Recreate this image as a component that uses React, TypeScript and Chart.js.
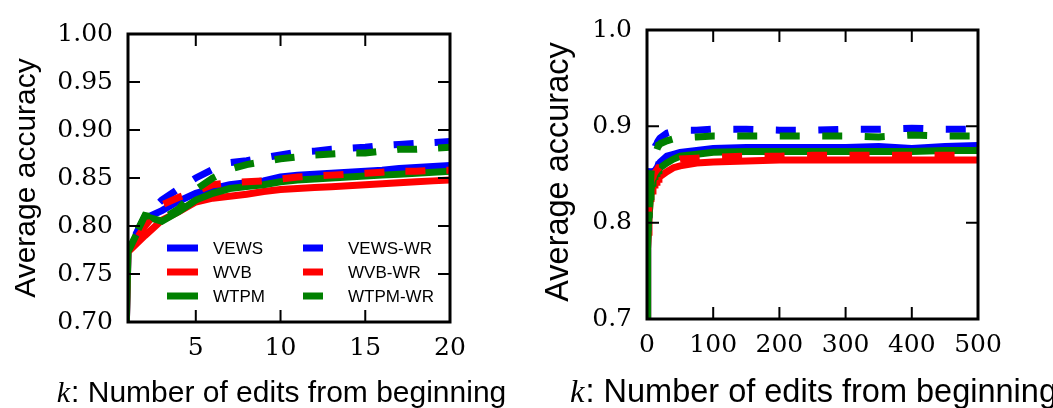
import React, { useEffect, useRef } from "react";
import { Chart, registerables } from "chart.js";

Chart.register(...registerables);

// ---------- data ----------
const K_LEFT = [0, 1, 2, 3, 4, 5, 6, 7, 8, 9, 10, 11, 12, 13, 14, 15, 16, 17, 18, 19, 20];
const VEWS = [0, 0.773, 0.808, 0.816, 0.826, 0.834, 0.839, 0.843, 0.845, 0.847, 0.851, 0.853, 0.854, 0.855, 0.856, 0.857, 0.858, 0.86, 0.861, 0.862, 0.863];
const WVB = [0, 0.773, 0.79, 0.806, 0.815, 0.825, 0.829, 0.831, 0.833, 0.836, 0.838, 0.839, 0.84, 0.841, 0.842, 0.843, 0.844, 0.845, 0.846, 0.847, 0.848];
const WTPM = [0, 0.773, 0.81, 0.805, 0.815, 0.827, 0.834, 0.839, 0.841, 0.843, 0.846, 0.848, 0.849, 0.85, 0.851, 0.852, 0.853, 0.854, 0.855, 0.856, 0.857];
const VEWS_WR = [null, 0.775, 0.81, 0.827, 0.839, 0.85, 0.859, 0.866, 0.868, 0.871, 0.874, 0.877, 0.878, 0.88, 0.881, 0.882, 0.884, 0.885, 0.886, 0.887, 0.888];
const WVB_WR = [null, 0.773, 0.8, 0.822, 0.83, 0.836, 0.843, 0.845, 0.846, 0.847, 0.849, 0.851, 0.852, 0.853, 0.854, 0.855, 0.856, 0.857, 0.857, 0.858, 0.858];
const WTPM_WR = [null, 0.775, 0.811, 0.807, 0.818, 0.838, 0.85, 0.859, 0.864, 0.867, 0.87, 0.872, 0.874, 0.875, 0.876, 0.876, 0.878, 0.88, 0.88, 0.881, 0.882];

const K_TAIL = [30, 40, 50, 75, 100, 150, 200, 250, 300, 350, 400, 450, 500];
const VEWS_TAIL = [0.869, 0.871, 0.873, 0.875, 0.877, 0.878, 0.878, 0.878, 0.878, 0.879, 0.877, 0.879, 0.88];
const WVB_TAIL = [0.853, 0.857, 0.859, 0.862, 0.863, 0.864, 0.865, 0.865, 0.865, 0.865, 0.865, 0.865, 0.865];
const WTPM_TAIL = [0.862, 0.866, 0.869, 0.871, 0.873, 0.874, 0.874, 0.874, 0.874, 0.874, 0.874, 0.875, 0.875];
const VEWS_WR_TAIL = [0.893, 0.895, 0.896, 0.896, 0.897, 0.897, 0.896, 0.896, 0.897, 0.897, 0.898, 0.897, 0.897];
const WVB_WR_TAIL = [0.862, 0.864, 0.866, 0.867, 0.868, 0.869, 0.869, 0.87, 0.87, 0.87, 0.87, 0.87, 0.87];
const WTPM_WR_TAIL = [0.885, 0.887, 0.888, 0.889, 0.89, 0.89, 0.89, 0.89, 0.89, 0.889, 0.891, 0.89, 0.89];

const SERIES_NAMES = ["VEWS", "WVB", "WTPM", "VEWS-WR", "WVB-WR", "WTPM-WR"];
const LEFT_SERIES = [VEWS, WVB, WTPM, VEWS_WR, WVB_WR, WTPM_WR];
const TAIL_SERIES = [VEWS_TAIL, WVB_TAIL, WTPM_TAIL, VEWS_WR_TAIL, WVB_WR_TAIL, WTPM_WR_TAIL];

const X_TICKS_LEFT = [5, 10, 15, 20];
const Y_TICKS_LEFT = [0.7, 0.75, 0.8, 0.85, 0.9, 0.95, 1.0];
const X_TICKS_RIGHT = [0, 100, 200, 300, 400, 500];
const Y_TICKS_RIGHT = [0.7, 0.8, 0.9, 1.0];

const Y_TITLE = "Average accuracy";
const X_TITLE_VAR = "k";
const X_TITLE_REST = ": Number of edits from beginning";

// ---------- styles ----------
const COLORS = ["#0000ff", "#ff0000", "#008000", "#0000ff", "#ff0000", "#008000"];
const DASHED = [false, false, false, true, true, true];
const SERIF = '"DejaVu Serif", serif';
const SANS = '"Liberation Sans", Arial, sans-serif';

const decorPlugin = {
  id: "decor",
  afterDraw(chart: any) {
    const o = chart.options.plugins.decor;
    const { ctx, chartArea: a, scales } = chart;
    ctx.save();
    ctx.strokeStyle = "#000";
    ctx.lineCap = "butt";
    ctx.lineWidth = o.tickWidth;
    ctx.beginPath();
    for (const t of scales.x.ticks) {
      const px = scales.x.getPixelForValue(t.value);
      ctx.moveTo(px, a.bottom);
      ctx.lineTo(px, a.bottom - o.tickLen);
      ctx.moveTo(px, a.top);
      ctx.lineTo(px, a.top + o.tickLen);
    }
    for (const t of scales.y.ticks) {
      const py = scales.y.getPixelForValue(t.value);
      ctx.moveTo(a.left, py);
      ctx.lineTo(a.left + o.tickLen, py);
      ctx.moveTo(a.right, py);
      ctx.lineTo(a.right - o.tickLen, py);
    }
    ctx.stroke();
    ctx.lineWidth = o.frameWidth;
    ctx.strokeRect(a.left, a.top, a.right - a.left, a.bottom - a.top);

    // legend
    if (o.legend) {
      const L = o.legend;
      chart.data.datasets.forEach((ds: any, i: number) => {
        const col = i < 3 ? 0 : 1;
        const row = i % 3;
        const y = L.y0 + row * L.rowGap;
        const sx = L.sampleX[col];
        ctx.save();
        ctx.strokeStyle = ds.borderColor;
        ctx.lineWidth = ds.borderWidth;
        ctx.setLineDash(ds.borderDash || []);
        ctx.beginPath();
        ctx.moveTo(sx, y);
        ctx.lineTo(sx + L.sampleLen, y);
        ctx.stroke();
        ctx.restore();
        ctx.fillStyle = "#000";
        ctx.font = `${L.fontSize}px ${SANS}`;
        ctx.textAlign = "left";
        ctx.textBaseline = "middle";
        ctx.fillText(ds.label, L.textX[col], y + 1);
      });
    }

    // y title
    ctx.fillStyle = "#000";
    ctx.font = `${o.titleSize}px ${SANS}`;
    ctx.save();
    ctx.translate(o.yTitleX, o.yTitleY);
    ctx.rotate(-Math.PI / 2);
    ctx.textAlign = "center";
    ctx.textBaseline = "alphabetic";
    ctx.fillText(Y_TITLE, 0, 0);
    ctx.restore();

    // x title with italic variable
    const kFont = `italic ${o.titleSize}px "Liberation Serif", serif`;
    const rFont = `${o.titleSize}px ${SANS}`;
    ctx.font = kFont;
    const wk = ctx.measureText(X_TITLE_VAR).width;
    ctx.font = rFont;
    const wr = ctx.measureText(X_TITLE_REST).width;
    const x0 = o.xTitleX - (wk + wr) / 2;
    ctx.textAlign = "left";
    ctx.textBaseline = "alphabetic";
    ctx.font = kFont;
    ctx.fillText(X_TITLE_VAR, x0, o.xTitleY);
    ctx.font = rFont;
    ctx.fillText(X_TITLE_REST, x0 + wk + 1, o.xTitleY);
    ctx.restore();
  },
};

function buildDatasets(xs: number[], series: (number | null)[][], dash: number[], dashOffsets: number[]) {
  return series.map((vals, i) => ({
    label: SERIES_NAMES[i],
    data: vals.map((v, j) => ({ x: xs[j], y: v })),
    borderColor: COLORS[i],
    backgroundColor: COLORS[i],
    borderWidth: 7,
    borderDash: DASHED[i] ? dash : [],
    borderDashOffset: DASHED[i] ? dashOffsets[i - 3] : 0,
    pointRadius: 0,
    tension: 0,
    fill: false,
    spanGaps: false,
    clip: 0,
    order: series.length - 1 - i,
  }));
}

function makeConfig(opts: any) {
  return {
    type: "line",
    data: { datasets: buildDatasets(opts.xs, opts.series, opts.dash, opts.dashOffsets) },
    options: {
      responsive: false,
      animation: false,
      events: [],
      layout: { padding: { left: 0, right: opts.padRight, top: opts.padTop, bottom: 0 } },
      scales: {
        x: {
          type: "linear",
          min: opts.xMin,
          max: opts.xMax,
          afterBuildTicks: (s: any) => {
            s.ticks = opts.xTicks.map((v: number) => ({ value: v }));
          },
          afterFit: (s: any) => {
            s.height = opts.xAxisH;
          },
          grid: { display: false, drawTicks: false },
          border: { display: false },
          ticks: {
            padding: 11,
            color: "#000",
            font: { family: SERIF, size: 25 },
            maxRotation: 0,
            autoSkip: false,
            callback: (v: number) => String(v),
          },
        },
        y: {
          type: "linear",
          min: opts.yMin,
          max: opts.yMax,
          afterBuildTicks: (s: any) => {
            s.ticks = opts.yTicks.map((v: number) => ({ value: v }));
          },
          afterFit: (s: any) => {
            s.width = opts.yAxisW;
          },
          grid: { display: false, drawTicks: false },
          border: { display: false },
          ticks: {
            padding: 15,
            color: "#000",
            font: { family: SERIF, size: 25 },
            autoSkip: false,
            callback: (v: number) => v.toFixed(opts.yDecimals),
          },
        },
      },
      plugins: {
        legend: { display: false },
        tooltip: { enabled: false },
        decor: {
          tickLen: 12,
          tickWidth: 2,
          frameWidth: 3,
          titleSize: opts.titleSize,
          yTitleX: opts.yTitleX,
          yTitleY: opts.yTitleY,
          xTitleX: opts.xTitleX,
          xTitleY: opts.xTitleY,
          legend: opts.legend,
        },
      },
    },
    plugins: [decorPlugin],
  };
}

function ChartCanvas({ left, width, config }: { left: number; width: number; config: any }) {
  const ref = useRef<HTMLCanvasElement | null>(null);
  useEffect(() => {
    if (!ref.current) return;
    const chart = new Chart(ref.current, config);
    return () => chart.destroy();
  }, []);
  return (
    <canvas
      ref={ref}
      width={width}
      height={408}
      style={{ position: "absolute", left, top: 0, width, height: 408 }}
    />
  );
}

export default function App() {
  const leftConfig = makeConfig({
    xs: K_LEFT,
    series: LEFT_SERIES,
    dash: [20, 21],
    dashOffsets: [24, 22, 18],
    xMin: 1,
    xMax: 20,
    yMin: 0.7,
    yMax: 1.0,
    xTicks: X_TICKS_LEFT,
    yTicks: Y_TICKS_LEFT,
    yDecimals: 2,
    padRight: 90,
    padTop: 34,
    yAxisW: 128,
    xAxisH: 86,
    titleSize: 30,
    yTitleX: 35,
    yTitleY: 178,
    xTitleX: 281,
    xTitleY: 402,
    legend: {
      y0: 248,
      rowGap: 24,
      sampleX: [167, 303],
      sampleLen: 31,
      textX: [213, 348],
      fontSize: 17,
    },
  });
  const rightXs = [...K_LEFT, ...K_TAIL];
  const rightSeries = LEFT_SERIES.map((s, i) => [...s, ...TAIL_SERIES[i]]);
  const rightConfig = makeConfig({
    xs: rightXs,
    series: rightSeries,
    dash: [20, 22.5],
    dashOffsets: [26.5, 21, 20.8],
    xMin: 0,
    xMax: 500,
    yMin: 0.7,
    yMax: 1.0,
    xTicks: X_TICKS_RIGHT,
    yTicks: Y_TICKS_RIGHT,
    yDecimals: 1,
    padRight: 75,
    padTop: 23,
    yAxisW: 107,
    xAxisH: 89,
    titleSize: 32.5,
    yTitleX: 28,
    yTitleY: 172,
    xTitleX: 273,
    xTitleY: 402,
    legend: null,
  });
  return (
    <div style={{ position: "absolute", left: 0, top: 0, width: 1053, height: 408, background: "#fff", overflow: "hidden" }}>
      <ChartCanvas left={0} width={540} config={leftConfig} />
      <ChartCanvas left={540} width={513} config={rightConfig} />
    </div>
  );
}
